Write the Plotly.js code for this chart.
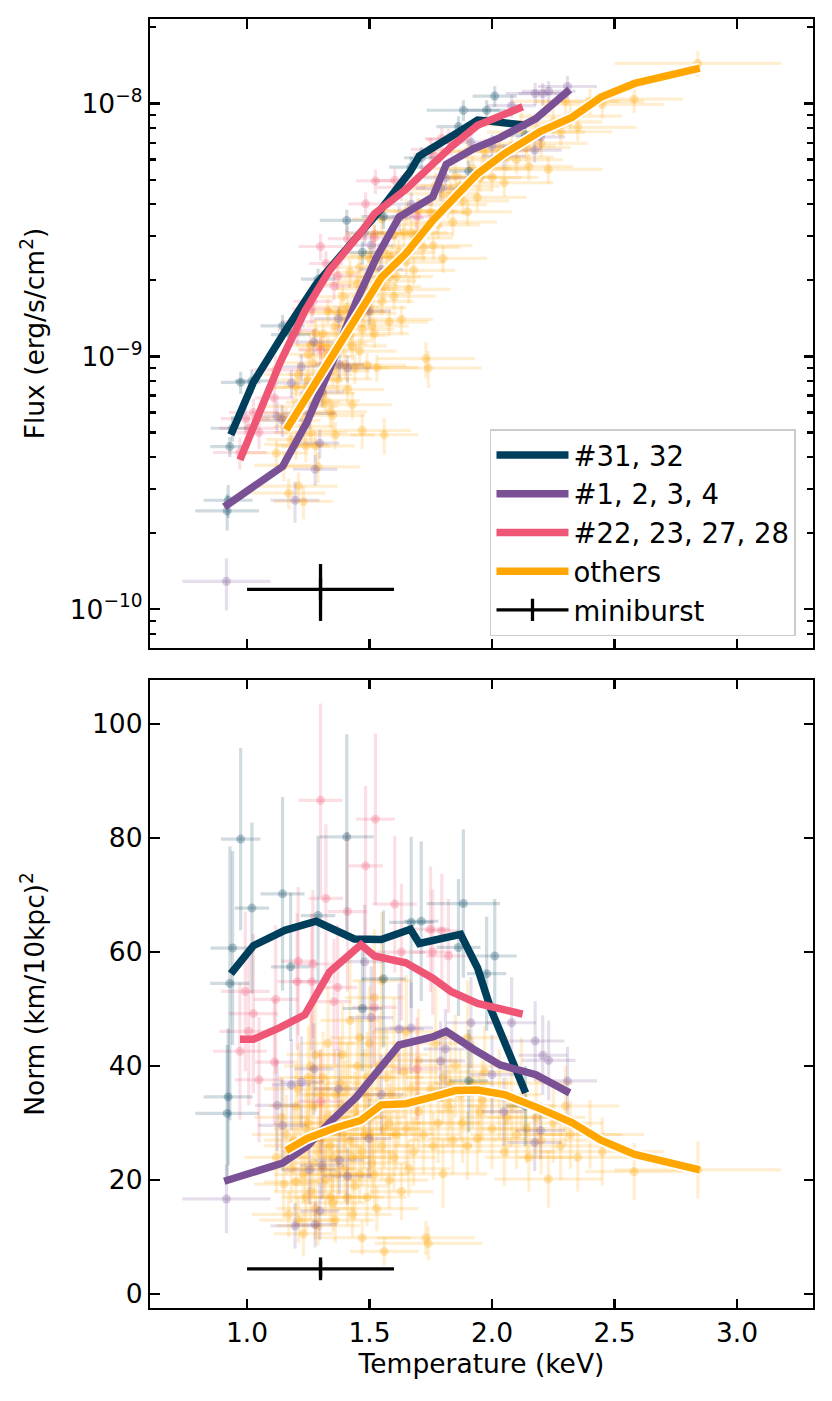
<!DOCTYPE html>
<html>
<head>
<meta charset="utf-8">
<script src="https://cdn.plot.ly/plotly-3.0.1.min.js"></script>
<style>html,body{margin:0;padding:0;background:#fff;}</style>
</head>
<body>
<div id="chart" style="width:832px;height:1401px;"></div>
<script>
// ---------- data (flux values in units of 1e-9 erg/s/cm^2) ----------
const FLUX_UNIT = 1e-9;

// #31, 32
const navyT  = [0.974,1.020,0.941,0.930,0.923,0.919,1.145,1.178,1.29,1.407,1.471,1.557,1.670,1.711,1.883,1.863,2.011,1.978,1.905,2.136];
const navyTe = [0.08,0.07,0.09,0.08,0.10,0.13,0.09,0.08,0.07,0.11,0.08,0.09,0.09,0.07,0.15,0.09,0.09,0.08,0.08,0.08];
const navyF  = [0.79,0.80,0.52,0.44,0.27,0.245,1.32,1.22,2.02,3.45,2.58,3.57,5.6,6.1,9.4,8.1,10.7,9.4,5.4,7.5];
const navyFe = [0.08,0.09,0.06,0.04,0.04,0.04,0.14,0.13,0.2,0.35,0.27,0.38,0.55,0.6,0.9,0.8,1.0,0.9,0.55,0.7];
const navyN  = [79.8,67.7,60.7,54.5,34.6,31.7,70.2,57.4,66.4,80.2,50.1,55.3,65.2,65.4,68.5,60.8,59.3,56.2,37.4,33.0];
const navyNe = [16,15,17,24,12,12,17,13,14,18,11,12,15,14,13,12,10,10,9,7];

// #1, 2, 3, 4
const purpleT  = [0.916,1.196,1.278,1.297,1.255,1.306,1.377,1.41,1.498,1.145,1.123,1.181,1.222,1.273,1.374,1.48,1.507,1.621,1.67,1.79,1.81,1.914,2.08,2.176,2.207,2.231,2.308,2.048,2.198,2.174,2.0,1.548];
const purpleTe = [0.18,0.10,0.09,0.08,0.11,0.09,0.10,0.10,0.09,0.10,0.09,0.08,0.09,0.08,0.10,0.08,0.09,0.10,0.09,0.10,0.09,0.10,0.10,0.12,0.10,0.11,0.12,0.09,0.10,0.11,0.09,0.09];
const purpleF  = [0.129,0.27,0.358,0.454,0.595,0.723,0.93,0.90,1.51,0.56,0.58,0.785,0.91,1.14,1.41,3.08,2.75,3.53,4.0,4.62,5.08,7.03,9.8,10.95,10.94,11.17,11.67,6.19,7.37,6.54,6.78,2.21];
const purpleFe = [0.03,0.05,0.05,0.06,0.08,0.09,0.11,0.11,0.18,0.08,0.08,0.1,0.11,0.13,0.16,0.35,0.3,0.4,0.45,0.5,0.55,0.75,1.0,1.1,1.1,1.1,1.2,0.7,0.8,0.7,0.75,0.26];
const purpleN  = [16.7,12.0,12.2,14.6,21.8,22.6,23.5,20.7,27.3,29.6,33.1,36.7,37.2,39.5,36.0,58.3,48.5,46.5,46.7,40.9,43.0,47.6,47.6,44.4,41.9,41.0,37.4,32.0,28.7,26.6,38.5,35.0];
const purpleNe = [6,4,4,5,6,6,6,5,7,8,8,8,8,8,7,10,9,8,8,7,7,8,8,7,7,7,6,6,5,5,7,7];

// #22, 23, 27, 28
const pinkT  = [1.30,1.524,1.484,1.322,1.41,1.603,1.749,1.795,1.63,1.758,1.822,1.209,1.269,1.205,0.993,1.264,1.117,1.37,1.355,1.52,1.026,1.007,0.971,1.112,1.049,1.30,1.694];
const pinkTe = [0.09,0.08,0.07,0.07,0.08,0.09,0.08,0.07,0.10,0.08,0.09,0.07,0.08,0.08,0.10,0.08,0.09,0.08,0.07,0.09,0.10,0.12,0.11,0.08,0.10,0.09,0.10];
const pinkF  = [2.72,4.94,4.01,2.33,2.92,4.97,6.59,7.27,4.66,6.30,7.19,1.37,1.65,1.27,0.568,1.54,0.885,2.08,1.90,2.95,0.60,0.52,0.417,0.685,0.50,1.06,3.58];
const pinkFe = [0.33,0.55,0.45,0.28,0.35,0.55,0.7,0.75,0.55,0.7,0.75,0.17,0.2,0.16,0.08,0.19,0.12,0.25,0.23,0.35,0.08,0.07,0.06,0.09,0.07,0.13,0.42];
const pinkN  = [86.6,83.3,75.1,69.4,67.1,68.4,64.0,63.7,60.0,60.0,59.3,58.4,57.9,54.8,53.1,54.8,51.7,53.8,51.3,50.3,49.2,46.1,42.6,40.7,37.6,33.8,39.5];
const pinkNe = [17,15,14,13,14,12,11,10,12,11,10,13,13,12,14,12,13,11,11,10,14,13,12,11,11,9,9];

// others
const otherT = [1.15,1.16,1.18,1.20,1.20,1.22,1.23,1.24,1.25,1.25,
  1.27,1.28,1.28,1.30,1.30,1.32,1.33,1.33,1.35,1.35,
  1.37,1.38,1.40,1.40,1.42,1.42,1.44,1.45,1.45,1.47,
  1.47,1.48,1.50,1.50,1.52,1.52,1.53,1.55,1.55,1.56,
  1.57,1.58,1.60,1.60,1.62,1.63,1.65,1.65,1.67,1.68,
  1.70,1.70,1.72,1.73,1.74,1.75,1.77,1.78,1.80,1.80,
  1.82,1.84,1.85,1.87,1.88,1.90,1.90,1.92,1.94,1.95,
  1.97,2.00,2.03,2.05,2.08,2.10,2.12,2.15,2.18,2.20,
  2.23,2.25,2.28,2.30,2.35,2.40,2.45,2.58,2.84,
  1.12,1.14,1.17,1.19,1.21,1.21,1.23,1.24,1.26,1.26,
  1.27,1.29,1.29,1.31,1.31,1.32,1.34,1.34,1.36,1.36,
  1.37,1.39,1.39,1.41,1.41,1.43,1.43,1.44,1.46,1.46,
  1.48,1.49,1.49,1.51,1.51,1.53,1.54,1.56,1.58,1.59,
  1.61,1.64,1.66,1.69,1.76,1.83,1.96,2.06,2.14,2.32];
const otherTe = [0.12,0.14,0.10,0.13,0.11,0.15,0.12,0.10,0.14,0.12,
  0.11,0.16,0.12,0.13,0.10,0.14,0.12,0.11,0.15,0.13,
  0.12,0.14,0.11,0.13,0.15,0.12,0.14,0.12,0.16,0.20,
  0.13,0.12,0.15,0.13,0.14,0.12,0.16,0.13,0.12,0.14,
  0.15,0.13,0.17,0.14,0.15,0.13,0.16,0.14,0.15,0.17,
  0.14,0.16,0.15,0.20,0.22,0.15,0.16,0.17,0.18,0.15,
  0.16,0.18,0.17,0.16,0.19,0.17,0.18,0.16,0.20,0.17,
  0.18,0.19,0.17,0.20,0.18,0.19,0.21,0.18,0.20,0.19,
  0.22,0.20,0.21,0.22,0.24,0.22,0.25,0.20,0.34,
  0.13,0.11,0.15,0.12,0.14,0.16,0.12,0.13,0.11,0.15,
  0.12,0.14,0.17,0.12,0.13,0.11,0.15,0.13,0.12,0.16,
  0.14,0.12,0.11,0.15,0.13,0.14,0.16,0.12,0.15,0.12,
  0.13,0.16,0.12,0.14,0.15,0.17,0.13,0.15,0.16,0.14,
  0.15,0.14,0.17,0.15,0.16,0.17,0.18,0.19,0.18,0.21];
const otherF = [0.371,0.558,0.469,0.449,0.753,0.634,0.267,0.442,0.806,1.02,
  0.658,0.443,1.24,0.848,1.10,0.668,1.067,1.51,0.877,0.585,
  1.12,1.48,0.93,1.39,1.21,2.15,0.90,1.51,1.94,0.51,
  1.28,1.85,1.56,2.45,1.23,3.05,1.99,1.65,3.49,0.49,
  2.54,2.06,1.73,3.03,2.58,1.40,2.36,3.75,3.08,2.19,
  2.94,3.77,2.70,0.98,0.90,3.71,4.75,3.31,2.44,4.39,
  3.98,3.40,5.15,4.71,4.12,6.45,3.73,5.53,4.25,5.09,
  6.46,5.10,6.54,4.86,6.79,5.99,8.22,5.64,7.70,6.96,
  5.49,8.46,7.73,10.2,8.05,10.2,9.91,10.4,14.4,
  0.415,0.576,0.288,0.596,0.849,0.307,0.529,0.754,1.11,0.499,
  0.944,0.762,0.366,1.23,0.713,1.0,0.603,0.922,1.32,0.489,
  0.814,1.15,1.72,0.739,1.57,1.10,0.644,1.51,1.05,2.25,
  1.48,0.922,2.06,1.77,1.32,0.904,2.48,1.89,1.37,2.46,
  2.07,3.10,1.84,3.05,2.74,4.56,5.52,6.14,6.69,8.92];
const otherFe = [0.05,0.07,0.06,0.06,0.09,0.08,0.04,0.06,0.1,0.12,
  0.08,0.06,0.15,0.1,0.13,0.08,0.13,0.18,0.11,0.08,
  0.13,0.18,0.12,0.17,0.15,0.26,0.12,0.18,0.23,0.08,
  0.16,0.22,0.19,0.29,0.15,0.36,0.24,0.2,0.42,0.08,
  0.3,0.25,0.21,0.36,0.31,0.18,0.28,0.45,0.37,0.27,
  0.35,0.45,0.33,0.16,0.15,0.44,0.57,0.4,0.3,0.53,
  0.48,0.41,0.62,0.57,0.5,0.77,0.45,0.66,0.52,0.61,
  0.78,0.62,0.78,0.59,0.81,0.72,0.99,0.68,0.92,0.84,
  0.66,1.0,0.93,1.2,0.97,1.2,1.2,1.25,1.7,
  0.05,0.07,0.04,0.07,0.1,0.04,0.07,0.09,0.13,0.06,
  0.11,0.09,0.05,0.15,0.09,0.12,0.08,0.11,0.16,0.06,
  0.1,0.14,0.2,0.09,0.19,0.13,0.08,0.18,0.13,0.27,
  0.18,0.11,0.25,0.21,0.16,0.11,0.3,0.23,0.17,0.3,
  0.25,0.37,0.22,0.37,0.33,0.55,0.66,0.74,0.8,1.07];
const otherN = [19.3,28,22,19.7,33,26,10.6,17,30,38,
  23,15,42,27,35,20,31,44,24,16,
  29,37,22,33,27,48,19,31,40,9.9,
  25,35,28,44,21,52,33,26,55,7.5,
  38,30,24,42,34,18,29,46,36,25,
  32,41,28,9.9,8.9,36,44,30,21.1,38,
  33,27,40,35,30,45,26,37,27.3,32,
  39,29,35,25,33,28,37,24,31,27,
  20.2,30,26,33,24,28,25,21.5,21.8,
  24,31,14,27,36,13,21,29,40,18,
  33,25,12,38,22,30,17,26,35,13,
  21,28,42,17,36,24,14,32,21,45,
  28,17,38,31,23,15,40,29,20,35,
  28,39,22,34,26,37,34,31,29,28];
const otherNe = [6,7,6,6,8,7,4,6,7,9,
  6,5,10,7,8,6,7,10,6,5,
  7,8,6,8,7,11,6,7,9,3,
  6,8,7,10,6,12,8,6,12,2.5,
  9,7,6,10,8,5,7,10,8,6,
  7,9,7,3,3,8,10,7,6,8,
  7,6,9,8,7,10,6,8,6,7,
  8,7,8,6,7,6,8,6,7,6,
  5,7,6,7,6,6,6,5,5,
  6,7,4,6,8,4,5,7,9,5,
  7,6,3.5,8,5,7,5,6,8,4,
  5,6,9,5,8,6,4,7,5,10,
  6,5,8,7,6,4,9,7,5,8,
  6,8,5,7,6,8,7,7,6,6];

// average curves
const navyLineT = [0.934,1.026,1.154,1.282,1.438,1.548,1.667,1.703,1.872,1.941,1.996,2.137];
const navyLineF = [0.49,0.79,1.25,1.93,2.89,3.83,5.4,6.2,7.8,8.6,8.5,8.2];
const navyLineN = [56.2,61.1,63.8,65.4,62.3,62.2,64.0,61.5,63.1,57.2,49.9,35.3];

const purpleLineT = [0.907,1.026,1.145,1.245,1.337,1.447,1.529,1.621,1.758,1.813,1.923,2.033,2.179,2.317];
const purpleLineF = [0.254,0.304,0.367,0.55,0.89,1.66,2.47,3.56,4.27,5.75,6.61,7.33,8.71,11.35];
const purpleLineN = [19.8,21.4,23.0,25.9,30.1,34.6,38.8,43.7,45.1,46.1,43.0,40.2,38.5,35.3];

const pinkLineT = [0.971,1.026,1.136,1.236,1.337,1.465,1.520,1.648,1.758,1.832,1.941,2.125];
const pinkLineF = [0.39,0.53,0.95,1.51,2.19,3.09,3.66,4.57,5.75,6.73,8.20,9.70];
const pinkLineN = [44.7,44.7,46.8,49.0,56.5,61.3,59.3,58.1,55.4,53.1,51.0,49.1];

const otherLineT = [1.16,1.245,1.355,1.465,1.548,1.648,1.758,1.850,1.941,2.051,2.198,2.326,2.445,2.582,2.848];
const otherLineF = [0.513,0.692,1.035,1.51,2.05,2.55,3.45,4.27,5.28,6.34,7.76,8.81,10.6,12.0,13.8];
const otherLineN = [25.2,27.3,29.1,30.5,33.2,33.4,34.6,35.7,35.8,35.0,32.5,30.1,27.0,24.5,21.8];

// miniburst
const miniT = [1.3], miniTe = [0.3];
const miniF = [0.12], miniFeHi = [0.031], miniFeLo = [0.030];
const miniN = [4.45], miniNe = [2.0];

const seriesNames = ['#31, 32', '#1, 2, 3, 4', '#22, 23, 27, 28', 'others', 'miniburst'];
const xTicks = [1.0, 1.5, 2.0, 2.5, 3.0];
const fluxTicks = [1e-10, 1e-9, 1e-8];
const fluxTickText = ['10<sup>\u221210</sup>', '10<sup>\u22129</sup>', '10<sup>\u22128</sup>'];
const fluxMinor = [8e-11, 9e-11, 2e-10, 3e-10, 4e-10, 5e-10, 6e-10, 7e-10, 8e-10, 9e-10,
                   2e-9, 3e-9, 4e-9, 5e-9, 6e-9, 7e-9, 8e-9, 9e-9, 2e-8];
const normTicks = [0, 20, 40, 60, 80, 100];

// ---------- build ----------
const toFlux = a => a.map(v => v * FLUX_UNIT);
const COLORS = { navy: '0,63,92', purple: '122,81,149', pink: '239,86,117', other: '255,166,0' };

function pointTraces(T, Te, F, Fe, N, Ne, rgb) {
  const eCol = 'rgba(' + rgb + ',0.19)';
  const mCol = 'rgba(' + rgb + ',0.28)';
  const common = {
    type: 'scatter', mode: 'markers', showlegend: false, hoverinfo: 'skip',
    marker: { color: mCol, size: 9, line: { width: 0 } },
    error_x: { type: 'data', array: Te, color: eCol, thickness: 3.2, width: 0 }
  };
  return [
    Object.assign({}, common, { x: T, y: toFlux(F), xaxis: 'x', yaxis: 'y',
      error_y: { type: 'data', array: toFlux(Fe), color: eCol, thickness: 3.2, width: 0 } }),
    Object.assign({}, common, { x: T, y: N, xaxis: 'x2', yaxis: 'y2',
      error_y: { type: 'data', array: Ne, color: eCol, thickness: 3.2, width: 0 } })
  ];
}

const traces = [];
traces.push(...pointTraces(otherT, otherTe, otherF, otherFe, otherN, otherNe, COLORS.other));
traces.push(...pointTraces(purpleT, purpleTe, purpleF, purpleFe, purpleN, purpleNe, COLORS.purple));
traces.push(...pointTraces(pinkT, pinkTe, pinkF, pinkFe, pinkN, pinkNe, COLORS.pink));
traces.push(...pointTraces(navyT, navyTe, navyF, navyFe, navyN, navyNe, COLORS.navy));

const LW = 7.5;
function lineTraces(T, F, N, rgb, name, outline) {
  const out = [];
  const col = 'rgb(' + rgb + ')';
  if (outline) {
    out.push({ type: 'scatter', mode: 'lines', x: T, y: toFlux(F), xaxis: 'x', yaxis: 'y',
      line: { color: 'white', width: LW + 3.5 }, showlegend: false, hoverinfo: 'skip' });
    out.push({ type: 'scatter', mode: 'lines', x: T, y: N, xaxis: 'x2', yaxis: 'y2',
      line: { color: 'white', width: LW + 3.5 }, showlegend: false, hoverinfo: 'skip' });
  }
  out.push({ type: 'scatter', mode: 'lines', x: T, y: toFlux(F), xaxis: 'x', yaxis: 'y',
    line: { color: col, width: LW }, name: name, legendgroup: name, showlegend: true });
  out.push({ type: 'scatter', mode: 'lines', x: T, y: N, xaxis: 'x2', yaxis: 'y2',
    line: { color: col, width: LW }, name: name, legendgroup: name, showlegend: false });
  return out;
}
traces.push(...lineTraces(navyLineT, navyLineF, navyLineN, COLORS.navy, seriesNames[0], false));
traces.push(...lineTraces(purpleLineT, purpleLineF, purpleLineN, COLORS.purple, seriesNames[1], false));
traces.push(...lineTraces(pinkLineT, pinkLineF, pinkLineN, COLORS.pink, seriesNames[2], false));
traces.push(...lineTraces(otherLineT, otherLineF, otherLineN, COLORS.other, seriesNames[3], true));

const miniCommon = {
  type: 'scatter', mode: 'lines+markers', name: seriesNames[4], legendgroup: seriesNames[4],
  line: { color: 'black', width: 3.3 },
  marker: { symbol: 'line-ns-open', size: 16, color: 'black', line: { color: 'black', width: 3.3 } },
  error_x: { type: 'data', array: miniTe, color: 'black', thickness: 3.3, width: 0 }
};
traces.push(Object.assign({}, miniCommon, { x: miniT, y: toFlux(miniF), xaxis: 'x', yaxis: 'y', showlegend: true,
  error_y: { type: 'data', symmetric: false, array: toFlux(miniFeHi), arrayminus: toFlux(miniFeLo), color: 'black', thickness: 3.3, width: 0 } }));
traces.push(Object.assign({}, miniCommon, { x: miniT, y: miniN, xaxis: 'x2', yaxis: 'y2', showlegend: false,
  marker: { symbol: 'line-ns-open', size: 12, color: 'black', line: { color: 'black', width: 3.3 } },
  error_y: { type: 'data', array: miniNe, color: 'black', thickness: 3.3, width: 0 } }));

const FONT = 'DejaVu Sans, sans-serif';
const FS = 26.5;
const axisBase = {
  showline: true, linecolor: 'black', linewidth: 2.2, mirror: 'allticks',
  ticks: 'inside', ticklen: 9.5, tickwidth: 2.2, tickcolor: 'black',
  showgrid: false, zeroline: false,
  tickfont: { family: FONT, size: FS, color: 'black' }
};

const layout = {
  width: 832, height: 1401,
  margin: { l: 150, r: 19, t: 19, b: 93 },
  paper_bgcolor: 'white', plot_bgcolor: 'white',
  font: { family: FONT, size: FS, color: 'black' },
  showlegend: true,
  legend: {
    x: 0.5128, y: 0.6819, xanchor: 'left', yanchor: 'top',
    bgcolor: 'rgba(255,255,255,0.8)', bordercolor: '#cccccc', borderwidth: 1.5,
    font: { family: FONT, size: 27.5, color: 'black' },
    traceorder: 'grouped', tracegroupgap: 0, itemwidth: 72
  },
  xaxis: Object.assign({}, axisBase, {
    domain: [0, 1], anchor: 'y', range: [0.604, 3.31],
    tickmode: 'array', tickvals: xTicks, showticklabels: false
  }),
  yaxis: Object.assign({}, axisBase, {
    domain: [0.512, 1], anchor: 'x', type: 'log', range: [-10.153, -7.666],
    tickmode: 'array', tickvals: fluxTicks, ticktext: fluxTickText,
    minor: { tickmode: 'array', tickvals: fluxMinor, ticks: 'inside', ticklen: 5.6, tickwidth: 2.2, tickcolor: 'black', showgrid: false },
    title: { text: 'Flux (erg/s/cm<sup>2</sup>)', font: { family: FONT, size: FS, color: 'black' }, standoff: 17 }
  }),
  xaxis2: Object.assign({}, axisBase, {
    domain: [0, 1], anchor: 'y2', range: [0.604, 3.31],
    tickmode: 'array', tickvals: xTicks, ticktext: xTicks.map(v => v.toFixed(1)),
    title: { text: 'Temperature (keV)', font: { family: FONT, size: FS, color: 'black' }, standoff: 8 }
  }),
  yaxis2: Object.assign({}, axisBase, {
    domain: [0, 0.4872], anchor: 'x2', range: [-2.42, 107.7],
    tickmode: 'array', tickvals: normTicks,
    title: { text: 'Norm (km/10kpc)<sup>2</sup>', font: { family: FONT, size: FS, color: 'black' }, standoff: 40 }
  })
};

Plotly.newPlot('chart', traces, layout, { displayModeBar: false, staticPlot: true });
</script>
</body>
</html>
